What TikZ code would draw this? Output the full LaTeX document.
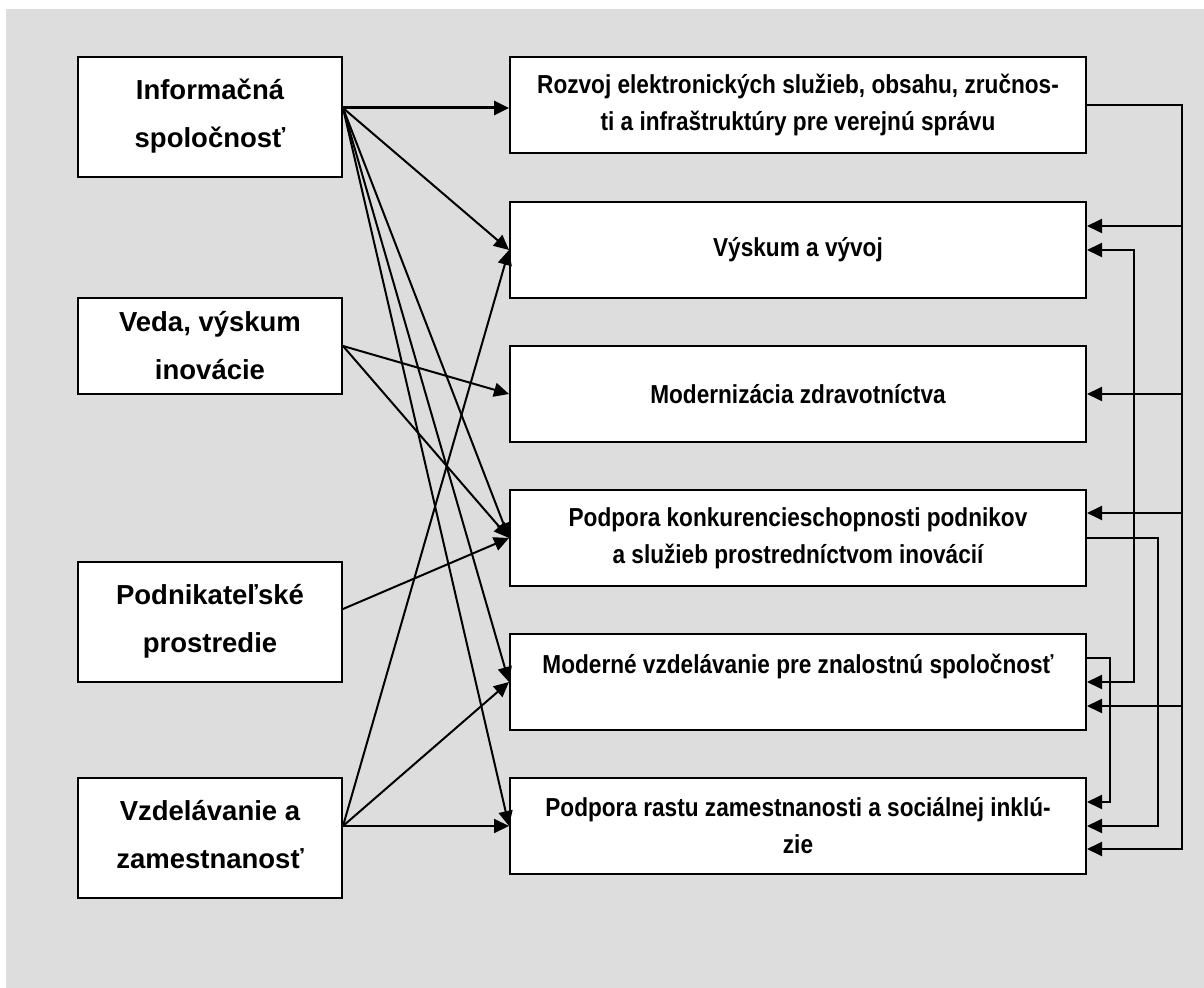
\documentclass[tikz,border=0pt]{standalone}
\usepackage{fontspec}
\setmainfont{Liberation Sans}
\newfontfamily\narrowsans{Liberation Sans}[FakeStretch=0.87]
\usetikzlibrary{arrows.meta}
\definecolor{bggray}{RGB}{221,221,221}

\begin{document}
\begin{tikzpicture}[x=0.5pt,y=0.5pt,
  leftbox/.style={draw=black, line width=1pt, fill=white, minimum width=132pt, align=center,
    font=\bfseries\fontsize{13.75}{24}\selectfont},
  rightbox/.style={draw=black, line width=1pt, fill=white, minimum width=288pt, minimum height=48pt,
    align=center, font=\narrowsans\bfseries\fontsize{13}{18.5}\selectfont},
  arr/.style={line width=1pt, -{Triangle[length=7.5pt,width=7pt]}},
  arrtwo/.style={line width=1pt, {Triangle[length=7.5pt,width=7pt]}-{Triangle[length=7.5pt,width=7pt]}}]
\tikzstyle{every node}+=[inner sep=0pt]
\useasboundingbox (0,0) rectangle (1204,-988);
\fill [bggray] (6,-9) rectangle (1204,-988);
% left column
\node [leftbox, minimum height=60pt, text depth=4pt] (inf) at (210,-117) {Informačná\\spoločnosť};
\node [leftbox, minimum height=48pt] (ved) at (210,-346) {Veda, výskum\\inovácie};
\node [leftbox, minimum height=60pt, text depth=4pt] (pod) at (210,-622) {Podnikateľské\\prostredie};
\node [leftbox, minimum height=60pt, text depth=4pt] (vzd) at (210,-838) {Vzdelávanie a\\zamestnanosť};
% right column
\node [rightbox] (roz) at (798,-105) {Rozvoj elektronických služieb, obsahu, zručnos-\\ti a infraštruktúry pre verejnú správu};
\node [rightbox] (vys) at (798,-250) {Výskum a vývoj};
\node [rightbox] (mod) at (798,-394) {Modernizácia zdravotníctva};
\node [rightbox] (kon) at (798,-538) {Podpora konkurencieschopnosti podnikov\\a služieb prostredníctvom inovácií};
\node [rightbox] (vzn) at (798,-682) {Moderné vzdelávanie pre znalostnú spoločnosť\\\mbox{}};
\node [rightbox] (ras) at (798,-826) {Podpora rastu zamestnanosti a sociálnej inklú-\\zie};
% start points and vertical lines
\coordinate (inf-o) at ([yshift=4.5pt]inf.east);
\coordinate (pod-o) at ([yshift=6.5pt]pod.east);
\coordinate (vzd-o) at ([yshift=6pt]vzd.east);
\coordinate (b1) at (1182,0);
\coordinate (b2) at (1158,0);
\coordinate (b3) at (1134,0);
\coordinate (b4) at (1110,0);
% from the left
\draw [arr, line width=1.5pt] (inf-o) -- (inf-o -| roz.west);
\draw [arr] (inf-o) -- (vys.west);
\draw [arr] (inf-o) -- (kon.west);
\draw [arr] (inf-o) -- (vzn.west);
\draw [arr] (inf-o) -- (ras.west);
\draw [arr] (ved.east) -- (mod.west);
\draw [arr] (ved.east) -- (kon.west);
\draw [arr] (pod-o) -- (kon.west);
\draw [arr] (vzd-o) -- (vys.west);
\draw [arr] (vzd-o) -- (vzn.west);
\draw [arr] (vzd-o) -- (ras.west);
% on the right
\draw [arr] (roz.east) -| ([yshift=-11.5pt]ras.east -| b1) -- ([yshift=-11.5pt]ras.east);
\draw [arr] (roz.east -| b1) |- ([yshift=12pt]vys.east);
\draw [arr] (roz.east -| b1) |- (mod.east);
\draw [arr] (roz.east -| b1) |- ([yshift=12.5pt]kon.east);
\draw [arr] (roz.east -| b1) |- ([yshift=-12pt]vzn.east);
\draw [arr] (kon.east) -| (ras.east -| b2) -- (ras.east);
\draw [arr] ([yshift=12pt]vzn.east) -| ([yshift=12pt]ras.east -| b4) -- ([yshift=12pt]ras.east);
\draw [arrtwo] (vys.east) -- (vys.east -| b3) -- (vzn.east -| b3) -- (vzn.east);
\end{tikzpicture}
\end{document}
